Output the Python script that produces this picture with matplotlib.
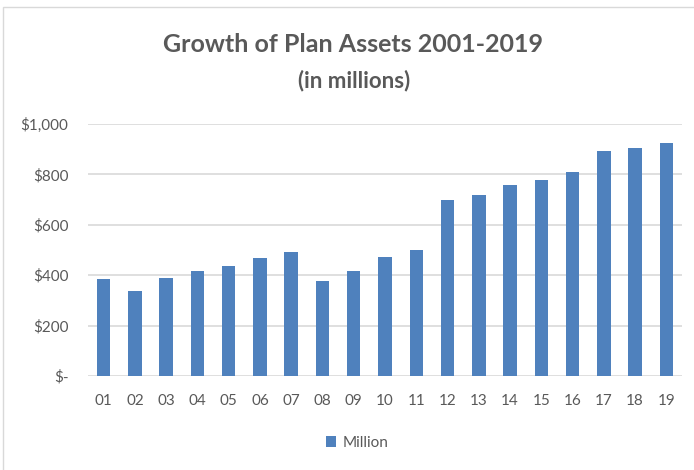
import matplotlib
matplotlib.use("Agg")
from matplotlib import pyplot as plt
from matplotlib.patches import Rectangle
from matplotlib.ticker import FuncFormatter

# values, $ millions
years = ["01", "02", "03", "04", "05", "06", "07", "08", "09", "10",
         "11", "12", "13", "14", "15", "16", "17", "18", "19"]
assets = [383, 337, 390, 415, 435, 467, 492, 377, 415, 473,
          499, 700, 719, 757, 777, 809, 893, 906, 924]

grey = "#595959"
blue = "#4f81bd"
plt.rcParams["font.family"] = ["Lato", "DejaVu Sans"]

fig = plt.figure(figsize=(6.94, 4.70), dpi=100)
ax = fig.add_axes([88 / 694, 1 - 376 / 470, (682 - 88) / 694, (376 - 124) / 470])

ax.bar(range(len(years)), assets, width=0.43, color=blue, zorder=3)
ax.set_xlim(-0.5, len(years) - 0.5)
ax.set_ylim(0, 1000)
ax.set_yticks(range(0, 1001, 200))
ax.yaxis.set_major_formatter(FuncFormatter(lambda v, p: "$-" if v == 0 else f"${v:,.0f}"))
ax.set_xticks(range(len(years)))
ax.set_xticklabels(years)
ax.grid(axis="y", color="#d9d9d9", linewidth=1.2, zorder=0)
for s in ax.spines.values():
    s.set_visible(False)
ax.tick_params(length=0, colors=grey, labelsize=11)
ax.tick_params(axis="y", pad=14)
ax.tick_params(axis="x", pad=13)

fig.text(353 / 694, 1 - 45 / 470, "Growth of Plan Assets 2001-2019", ha="center", va="center",
         fontsize=18, fontweight="bold", color=grey)
fig.text(354 / 694, 1 - 81 / 470, "(in millions)", ha="center", va="center",
         fontsize=16, fontweight="bold", color=grey)

leg = ax.legend(["Million"], loc="center", bbox_to_anchor=(357 / 694, 1 - 443 / 470),
                bbox_transform=fig.transFigure, frameon=False, handlelength=0.7,
                handleheight=0.7, handletextpad=0.4, fontsize=11)
for t in leg.get_texts():
    t.set_color(grey)

fig.patches.append(Rectangle((3 / 694, -0.01), 1, 1 - 7 / 470 + 0.01, transform=fig.transFigure,
                             fill=False, edgecolor="#d9d9d9", linewidth=1))

fig.savefig("out.png", dpi=100)
